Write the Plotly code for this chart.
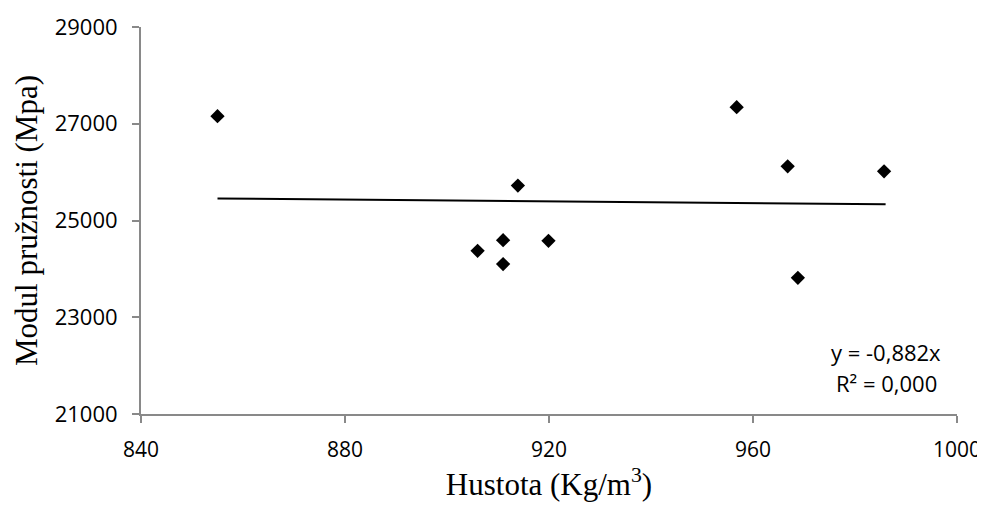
import plotly.graph_objects as go

# Data
density = [855.0, 906.0, 911.0, 911.0, 913.9, 919.9, 956.8, 966.8, 968.8, 985.7]
modulus = [27157, 24373, 24594, 24099, 25722, 24579, 27342, 26120, 23816, 26016]

trend_x = [855.0, 986.0]
trend_y = [25454, 25336]

x_ticks = [840, 880, 920, 960, 1000]
y_ticks = [21000, 23000, 25000, 27000, 29000]

eq_text = "y = -0,882x"
r2_text = "R² = 0,000"

AX = "#898989"
TICKFONT = dict(family="Open Sans", size=22, color="#000000")
XTICKFONT = dict(family="Open Sans", size=21, color="#000000")
TITLEFONT = dict(family="Liberation Serif, Times New Roman, serif", size=31, color="#000000")

fig = go.Figure()
fig.add_trace(go.Scatter(
    x=trend_x, y=trend_y, mode="lines",
    line=dict(color="#000000", width=2), showlegend=False, hoverinfo="skip"))
fig.add_trace(go.Scatter(
    x=density, y=modulus, mode="markers",
    marker=dict(symbol="diamond", size=11, color="#000000"),
    showlegend=False))

fig.add_annotation(x=0.913, y=0.160, xref="paper", yref="paper",
                   text=eq_text, showarrow=False, font=TICKFONT,
                   xanchor="center", yanchor="middle")
fig.add_annotation(x=0.913, y=0.080, xref="paper", yref="paper",
                   text=r2_text, showarrow=False, font=TICKFONT,
                   xanchor="center", yanchor="middle")

# the page body has an 8px margin, so the figure is sized to fit inside it
fig.update_layout(
    width=977, height=501,
    margin=dict(l=133, r=28, t=19, b=95),
    paper_bgcolor="#ffffff", plot_bgcolor="#ffffff",
    xaxis=dict(
        range=[840, 1000], tickvals=x_ticks, ticktext=[str(v) for v in x_ticks],
        showgrid=False, zeroline=False, showline=True, linecolor=AX, linewidth=2,
        ticks="outside", ticklen=7, tickcolor=AX, tickwidth=2,
        tickfont=XTICKFONT, ticklabelstandoff=9, ticklabeloverflow="allow",
        title=dict(text="Hustota (Kg/m<sup>3</sup>)", font=TITLEFONT, standoff=8),
        automargin=False,
    ),
    yaxis=dict(
        range=[21000, 29000], tickvals=y_ticks, ticktext=[str(v) for v in y_ticks],
        showgrid=False, zeroline=False, showline=True, linecolor=AX, linewidth=2,
        ticks="outside", ticklen=7, tickcolor=AX, tickwidth=2,
        tickfont=TICKFONT, ticklabelstandoff=10,
        title=dict(text="Modul pružnosti (Mpa)", font=TITLEFONT, standoff=8),
        automargin=False,
    ),
)

fig.write_html("out.html")
